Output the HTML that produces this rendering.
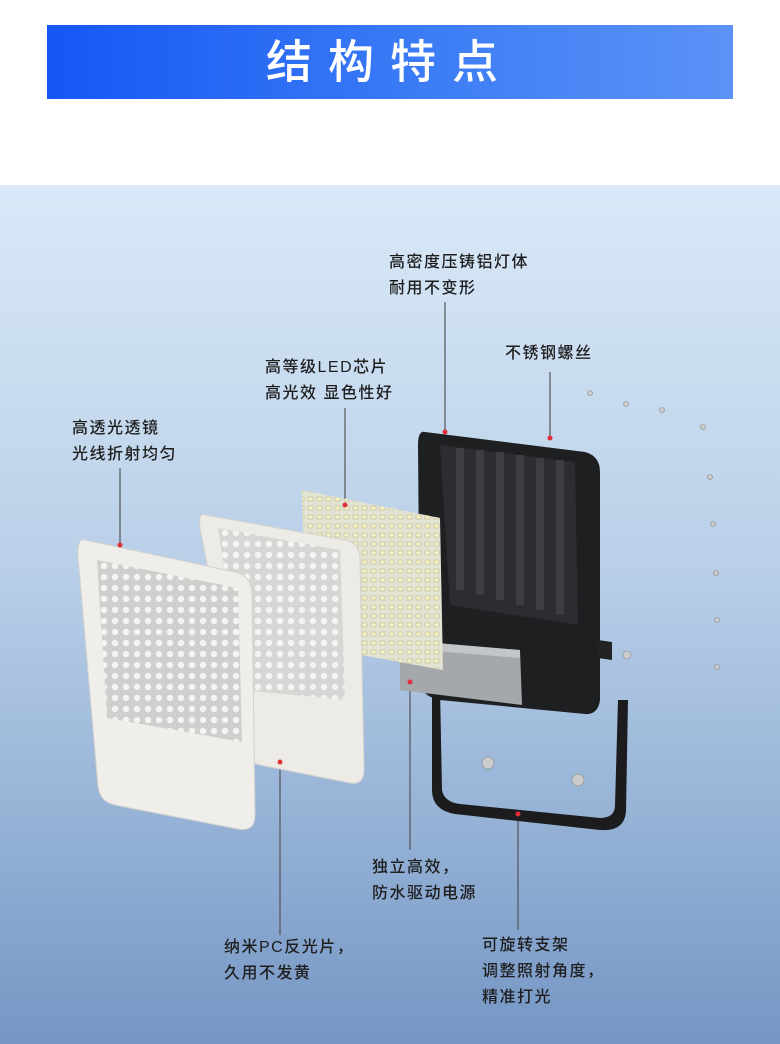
<!DOCTYPE html>
<html><head><meta charset="utf-8"><style>
body{margin:0;width:780px;height:1044px;position:relative;overflow:hidden;background:#fff;font-family:"Liberation Sans","Noto Sans CJK SC",sans-serif}
.bar{position:absolute;left:47px;top:25px;width:686px;height:74px;background:linear-gradient(90deg,#1557f5,#3f7ff5 60%,#5c92f7);color:#fff;font-size:46px;text-align:center;line-height:74px;letter-spacing:16px;font-weight:500}
.bg{position:absolute;left:0;top:185px;width:780px;height:859px;background:linear-gradient(180deg,#d9e9f8 0%,#b9cfe8 45%,#8eacd2 80%,#7596c4 100%)}
.t{position:absolute;font-size:16px;color:#1e1e1e;line-height:26px;letter-spacing:1.5px;font-weight:500}
svg{position:absolute;left:0;top:0}
</style></head><body>
<div class="bar">结构特点</div>
<div class="bg"></div>
<svg width="780" height="1044">
<defs>
<pattern id="holes" width="11" height="11" patternUnits="userSpaceOnUse"><circle cx="5" cy="5" r="3.2" fill="#f4f4f2"/></pattern>
<pattern id="leds" width="9" height="9" patternUnits="userSpaceOnUse"><rect x="2" y="2" width="5" height="4" fill="#f4f1c8" stroke="#bdb88a" stroke-width="0.6"/></pattern>
</defs>
<g stroke="#555" stroke-width="1.2">
<line x1="120" y1="468" x2="120" y2="545"/>
<line x1="345" y1="408" x2="345" y2="505"/>
<line x1="445" y1="302" x2="445" y2="432"/>
<line x1="550" y1="372" x2="550" y2="438"/>
<line x1="280" y1="762" x2="280" y2="935"/>
<line x1="410" y1="682" x2="410" y2="850"/>
<line x1="518" y1="814" x2="518" y2="930"/>
</g>
<path d="M425 432 L585 452 Q600 456 600 472 L600 700 Q598 715 585 714 L440 700 Q420 696 420 680 L418 445 Q418 430 425 432Z" fill="#1e1f21"/>
<path d="M440 445 L575 462 L578 625 L450 605Z" fill="#2c2d30"/>
<g stroke="#3d3e42" stroke-width="8">
<line x1="460" y1="448" x2="460" y2="590"/><line x1="480" y1="450" x2="480" y2="595"/><line x1="500" y1="452" x2="500" y2="600"/><line x1="520" y1="455" x2="520" y2="605"/><line x1="540" y1="458" x2="540" y2="610"/><line x1="560" y1="460" x2="560" y2="615"/>
</g>
<path d="M598 640 L612 642 L612 660 L598 658Z" fill="#222"/>
<path d="M432 688 L440 688 L442 790 Q444 802 460 804 L600 818 Q615 818 615 805 L618 700 L628 700 L626 812 Q624 832 600 830 L455 814 Q432 810 432 790Z" fill="#1c1c1e"/>
<path d="M400 640 L520 650 L522 705 L400 690Z" fill="#a5a8ab"/>
<path d="M400 640 L520 650 L520 658 L400 648Z" fill="#c3c6c9"/>
<path d="M302 490 L440 518 L443 670 L306 645Z" fill="#e3e3d4"/>
<path d="M302 490 L440 518 L443 670 L306 645Z" fill="url(#leds)"/>
<path d="M205 515 L345 540 Q360 543 360 560 L364 770 Q364 785 350 783 L260 765 Q245 762 243 745 L200 528 Q198 512 205 515Z" fill="#ecebe6" stroke="#d5d3cc"/>
<path d="M218 528 L340 550 L345 700 L243 690Z" fill="#d6d6d4"/>
<path d="M218 528 L340 550 L345 700 L243 690Z" fill="url(#holes)"/>
<path d="M85 540 L235 572 Q252 576 252 595 L255 815 Q255 832 238 829 L115 805 Q100 802 98 786 L78 556 Q77 538 85 540Z" fill="#efeeea" stroke="#d5d3cc"/>
<path d="M97 560 L238 588 L242 742 L107 718Z" fill="#cfcfce"/>
<path d="M97 560 L238 588 L242 742 L107 718Z" fill="url(#holes)"/>
<g fill="#ccc" stroke="#888" stroke-width="0.6">
<circle cx="590" cy="393" r="2.5"/><circle cx="626" cy="404" r="2.5"/><circle cx="662" cy="410" r="2.5"/><circle cx="703" cy="427" r="2.5"/><circle cx="710" cy="477" r="2.5"/><circle cx="713" cy="524" r="2.5"/><circle cx="716" cy="573" r="2.5"/><circle cx="717" cy="620" r="2.5"/><circle cx="717" cy="667" r="2.5"/><circle cx="627" cy="655" r="4"/>
<circle cx="488" cy="763" r="6"/><circle cx="578" cy="780" r="6"/>
</g>
<g fill="#e0303a">
<circle cx="120" cy="545" r="2.5"/><circle cx="345" cy="505" r="2.5"/><circle cx="445" cy="432" r="2.5"/><circle cx="550" cy="438" r="2.5"/><circle cx="280" cy="762" r="2.5"/><circle cx="410" cy="682" r="2.5"/><circle cx="518" cy="814" r="2.5"/>
</g>
</svg>
<div class="t" style="left:389px;top:250px">高密度压铸铝灯体<br>耐用不变形</div>
<div class="t" style="left:505px;top:341px">不锈钢螺丝</div>
<div class="t" style="left:265px;top:355px">高等级LED芯片<br>高光效 显色性好</div>
<div class="t" style="left:72px;top:416px">高透光透镜<br>光线折射均匀</div>
<div class="t" style="left:372px;top:855px">独立高效，<br>防水驱动电源</div>
<div class="t" style="left:224px;top:935px">纳米PC反光片，<br>久用不发黄</div>
<div class="t" style="left:482px;top:933px">可旋转支架<br>调整照射角度，<br>精准打光</div>
</body></html>
